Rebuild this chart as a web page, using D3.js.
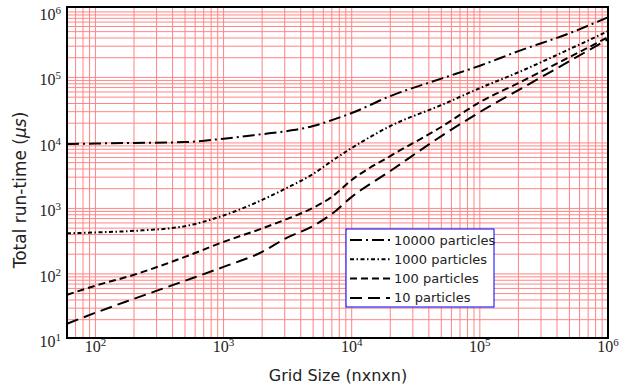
<!DOCTYPE html>
<html>
<head>
<meta charset="utf-8">
<script src="https://cdn.jsdelivr.net/npm/d3@7"></script>
<style>
  body { margin: 0; background: #fff; }
  svg { display: block; }
</style>
</head>
<body>
<svg width="624" height="386"></svg>
<script>
const gridSizes = [60, 100, 200, 500, 1000, 2000, 3000, 5000, 7000, 10000, 20000, 50000, 100000, 200000, 500000, 1000000];
const t10000 = [9620, 9790, 10000, 10300, 11600, 13600, 15000, 18100, 22300, 28600, 51900, 95900, 151000, 252000, 473000, 830000];
const t1000  = [416, 430, 454, 536, 781, 1350, 1980, 3360, 5300, 8360, 18100, 37800, 68700, 120000, 270000, 508000];
const t100   = [48, 66, 97, 182, 308, 495, 668, 1020, 1500, 2720, 6310, 17500, 42000, 82000, 204000, 411000];
const t10    = [17.3, 25.5, 41.7, 78.5, 128, 217, 343, 541, 824, 1500, 3730, 12700, 29600, 64000, 177000, 384000];
const seriesNames = ["10000 particles", "1000 particles", "100 particles", "10 particles"];
const xDecades = [2, 3, 4, 5, 6];
const yDecades = [1, 2, 3, 4, 5, 6];

const svg = d3.select("svg");
const pLeft = 67, pRight = 608, pTop = 7, pBottom = 338;

const x = d3.scaleLog().domain([60, 1e6]).range([pLeft, pRight]);
const y = d3.scaleLog().domain([10.5, 1.19e6]).range([pBottom, pTop]);

// grid lines at 1..9 x 10^k
const xGrid = [], yGrid = [];
for (let k = 1; k <= 6; k++) {
  for (let m = 1; m <= 9; m++) {
    const v = m * Math.pow(10, k);
    if (v >= 60 && v <= 1e6) xGrid.push(v);
    if (v >= 10.5 && v <= 1.19e6) yGrid.push(v);
  }
}

const grid = svg.append("g").attr("stroke", "#ff8585").attr("stroke-width", 1);
grid.selectAll(".gx").data(xGrid).enter().append("line")
  .attr("x1", d => x(d)).attr("x2", d => x(d))
  .attr("y1", pTop).attr("y2", pBottom);
grid.selectAll(".gy").data(yGrid).enter().append("line")
  .attr("y1", d => y(d)).attr("y2", d => y(d))
  .attr("x1", pLeft).attr("x2", pRight);

// series
const styles = [
  { data: t10000, dash: "12,4,2,4" },
  { data: t1000,  dash: "4,2.5,1.5,2.5" },
  { data: t100,   dash: "7,4" },
  { data: t10,    dash: "12,6" }
];

const line = d3.line()
  .x((d, i) => x(gridSizes[i]))
  .y(d => y(d))
  .curve(d3.curveMonotoneX);

svg.append("g").selectAll("path")
  .data(styles)
  .enter()
  .append("path")
  .attr("d", d => line(d.data))
  .attr("fill", "none")
  .attr("stroke", "#000")
  .attr("stroke-width", 2)
  .attr("stroke-dasharray", d => d.dash);

// frame
svg.append("rect")
  .attr("x", pLeft).attr("y", pTop)
  .attr("width", pRight - pLeft).attr("height", pBottom - pTop)
  .attr("fill", "none").attr("stroke", "#000").attr("stroke-width", 2);

// tick labels
const xl = svg.append("g").attr("font-family", "Liberation Serif").attr("font-size", 16).attr("fill", "#222");
xl.selectAll("text").data(xDecades).enter().append("text")
  .attr("x", d => x(Math.pow(10, d)))
  .attr("y", 352)
  .attr("text-anchor", "middle")
  .each(function(d) {
    const t = d3.select(this);
    t.append("tspan").text("10");
    t.append("tspan").attr("font-size", 11).attr("dy", -6).text(d);
  });

const yl = svg.append("g").attr("font-family", "Liberation Serif").attr("font-size", 16).attr("fill", "#222");
yl.selectAll("text").data(yDecades).enter().append("text")
  .attr("x", 61)
  .attr("y", d => y(Math.pow(10, d)) + 8)
  .attr("text-anchor", "end")
  .each(function(d) {
    const t = d3.select(this);
    t.append("tspan").text("10");
    t.append("tspan").attr("font-size", 11).attr("dy", -6).text(d);
  });

// axis titles
svg.append("text")
  .attr("x", 338).attr("y", 381)
  .attr("text-anchor", "middle")
  .attr("font-family", "DejaVu Sans").attr("font-size", 16).attr("fill", "#222")
  .text("Grid Size (nxnxn)");

const yt = svg.append("text")
  .attr("transform", "translate(26,190) rotate(-90)")
  .attr("text-anchor", "middle")
  .attr("font-family", "DejaVu Sans").attr("font-size", 17).attr("fill", "#222");
yt.append("tspan").text("Total run-time (");
yt.append("tspan").attr("font-style", "italic").text("\u03bcs");
yt.append("tspan").text(")");

// legend
const legend = svg.append("g").attr("transform", "translate(346,229)");
legend.append("rect").attr("width", 148).attr("height", 78)
  .attr("fill", "#fff").attr("stroke", "#0000ff").attr("stroke-width", 1);
const items = legend.selectAll(".item")
  .data(styles)
  .enter()
  .append("g")
  .attr("transform", (d, i) => `translate(0,${11 + i * 19.3})`);
items.append("line")
  .attr("x1", 4).attr("x2", 44)
  .attr("stroke", "#000").attr("stroke-width", 2)
  .attr("stroke-dasharray", d => d.dash);
items.append("text")
  .attr("x", 48).attr("dy", "0.35em")
  .attr("font-family", "DejaVu Sans").attr("font-size", 13).attr("fill", "#222")
  .text((d, i) => seriesNames[i]);
</script>
</body>
</html>
